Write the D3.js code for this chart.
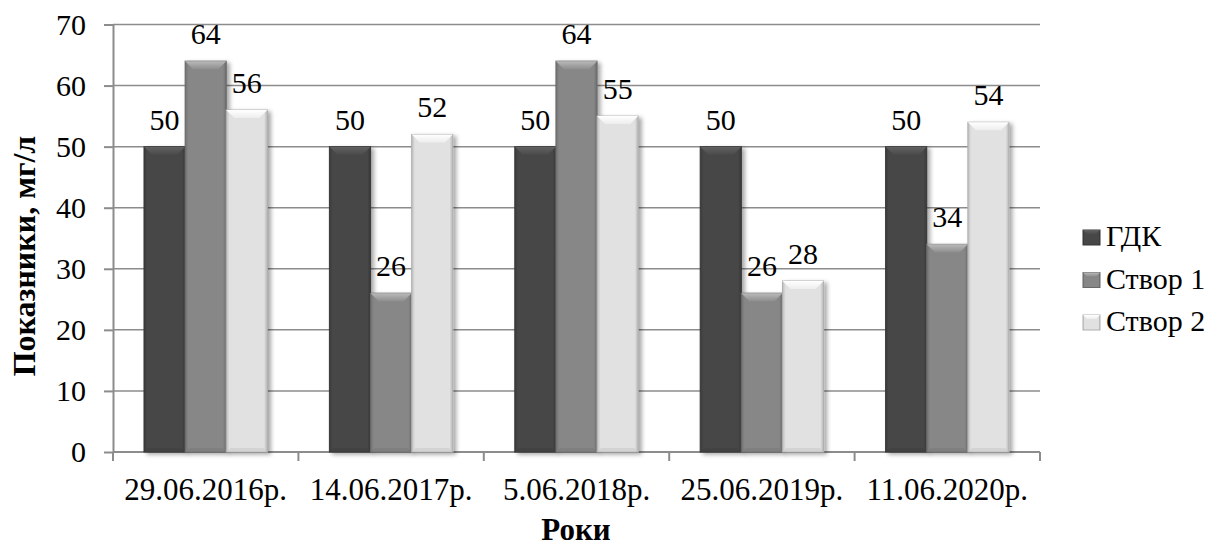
<!DOCTYPE html>
<html>
<head>
<meta charset="utf-8">
<script src="https://cdn.jsdelivr.net/npm/d3@7"></script>
<style>
  body { margin: 0; background: #fff; }
  text { font-family: "Liberation Serif", "Times New Roman", Times, serif; fill: #000; }
</style>
</head>
<body>
<svg width="1213" height="546"></svg>
<script>
// data
var categories = ["29.06.2016р.", "14.06.2017р.", "5.06.2018р.", "25.06.2019р.", "11.06.2020р."];
var series = ["ГДК", "Створ 1", "Створ 2"];
var gdk = [50, 50, 50, 50, 50];
var stvor1 = [64, 26, 64, 26, 34];
var stvor2 = [56, 52, 55, 28, 54];
var yTicks = [0, 10, 20, 30, 40, 50, 60, 70];

var values = [gdk, stvor1, stvor2];
var colours = ["#474747", "#878787", "#e1e1e1"];

var svg = d3.select("svg");
var plotLeft = 113, plotRight = 1040, plotTop = 24.5, plotBottom = 452;

var x = d3.scaleBand().domain(categories).range([plotLeft, plotRight]);
var xs = d3.scaleBand().domain(series).range([31, x.bandwidth() - 31]);
var y = d3.scaleLinear().domain([0, 70]).range([plotBottom, plotTop]);

//gradients for the bevelled bars
var defs = svg.append("defs");
colours.forEach(function (c, i) {
    var base = d3.color(c);
    var g = defs.append("linearGradient").attr("id", "side" + i);
    g.append("stop").attr("offset", "0%").attr("stop-color", base.darker(0.5));
    g.append("stop").attr("offset", "8%").attr("stop-color", base);
    g.append("stop").attr("offset", "92%").attr("stop-color", base);
    g.append("stop").attr("offset", "100%").attr("stop-color", base.darker(0.6));
    var t = defs.append("linearGradient").attr("id", "top" + i)
        .attr("x1", 0).attr("y1", 0).attr("x2", 0).attr("y2", 1);
    t.append("stop").attr("offset", "0%").attr("stop-color", base.brighter(0.9));
    t.append("stop").attr("offset", "100%").attr("stop-color", base.brighter(0.15));
});
var f = defs.append("filter").attr("id", "shadow")
    .attr("x", "-20%").attr("y", "-10%").attr("width", "150%").attr("height", "130%");
f.append("feDropShadow").attr("dx", 3).attr("dy", 2).attr("stdDeviation", 2)
    .attr("flood-color", "#000").attr("flood-opacity", 0.35);

//gridlines
svg.append("g").selectAll("line")
    .data(yTicks)
    .enter().append("line")
    .attr("x1", plotLeft).attr("x2", plotRight)
    .attr("y1", function (d) { return y(d); })
    .attr("y2", function (d) { return y(d); })
    .attr("stroke", "#8c8c8c").attr("stroke-width", 1.5);

//axes
var yAxis = svg.append("g").attr("transform", "translate(" + plotLeft + ",0)")
    .call(d3.axisLeft(y).tickValues(yTicks).tickSize(9).tickSizeOuter(0).tickFormat(""));
var xAxis = svg.append("g").attr("transform", "translate(0," + plotBottom + ")")
    .call(d3.axisBottom(x).tickSize(0).tickFormat(""));
xAxis.selectAll("line.edge")
    .data(d3.range(categories.length + 1))
    .enter().append("line").attr("class", "edge")
    .attr("x1", function (d) { return plotLeft + d * x.bandwidth(); })
    .attr("x2", function (d) { return plotLeft + d * x.bandwidth(); })
    .attr("y1", 0).attr("y2", 9);
[yAxis, xAxis].forEach(function (a) {
    a.selectAll("path").attr("stroke", "#8c8c8c").attr("stroke-width", 2);
    a.selectAll("line").attr("stroke", "#8c8c8c").attr("stroke-width", 2);
});
xAxis.select("path").attr("d", "M" + plotLeft + ",0H" + plotRight);

//y tick labels
svg.append("g").selectAll("text")
    .data(yTicks)
    .enter().append("text")
    .attr("x", 86)
    .attr("y", function (d) { return y(d) + 10; })
    .attr("text-anchor", "end")
    .style("font-size", "30px")
    .text(function (d) { return d; });

//x tick labels
svg.append("g").selectAll("text")
    .data(categories)
    .enter().append("text")
    .attr("x", function (d) { return x(d) + x.bandwidth() / 2; })
    .attr("y", 500)
    .attr("text-anchor", "middle")
    .style("font-size", "31px")
    .text(function (d) { return d; });

//bars
var group = svg.append("g").selectAll("g")
    .data(categories)
    .enter().append("g")
    .attr("transform", function (d) { return "translate(" + x(d) + ",0)"; });

var bars = group.selectAll("g.bar")
    .data(function (d, ci) {
        return series.map(function (s, si) { return { s: s, si: si, v: values[si][ci] }; });
    })
    .enter().append("g").attr("class", "bar");

var bw = xs.bandwidth();
var bev = 8;
bars.append("rect")
    .attr("x", function (d) { return xs(d.s); })
    .attr("y", function (d) { return y(d.v); })
    .attr("width", bw)
    .attr("height", function (d) { return y(0) - y(d.v); })
    .attr("fill", function (d) { return "url(#side" + d.si + ")"; })
    .attr("stroke", function (d) { return d3.color(colours[d.si]).darker(0.7); })
    .attr("stroke-width", 1)
    .attr("filter", "url(#shadow)");
bars.append("path")
    .attr("d", function (d) {
        var x0 = xs(d.s), y0 = y(d.v);
        return "M" + x0 + "," + y0 + "H" + (x0 + bw) + "L" + (x0 + bw - bev) + "," + (y0 + bev)
            + "H" + (x0 + bev) + "Z";
    })
    .attr("fill", function (d) { return "url(#top" + d.si + ")"; });
bars.append("path")
    .attr("d", function (d) {
        var x0 = xs(d.s), y0 = y(0);
        return "M" + x0 + "," + y0 + "H" + (x0 + bw) + "L" + (x0 + bw - 4) + "," + (y0 - 4)
            + "H" + (x0 + 4) + "Z";
    })
    .attr("fill", function (d) { return d3.color(colours[d.si]).darker(0.3); })
    .attr("opacity", 0.6);

//value labels
bars.append("text")
    .attr("x", function (d) { return xs(d.s) + bw / 2; })
    .attr("y", function (d) { return y(d.v) - 17; })
    .attr("text-anchor", "middle")
    .style("font-size", "30px")
    .text(function (d) { return d.v; });

//axis titles
svg.append("text")
    .attr("transform", "translate(35,256) rotate(-90)")
    .attr("text-anchor", "middle")
    .style("font-size", "32px").style("font-weight", "bold")
    .text("Показники, мг/л");
svg.append("text")
    .attr("x", 576).attr("y", 540)
    .attr("text-anchor", "middle")
    .style("font-size", "31px").style("font-weight", "bold")
    .text("Роки");

//legend
var legend = svg.append("g").selectAll("g")
    .data(series)
    .enter().append("g")
    .attr("transform", function (d, i) { return "translate(1083," + (230 + i * 42.5) + ")"; });
legend.append("rect")
    .attr("width", 17).attr("height", 15)
    .attr("fill", function (d, i) { return "url(#side" + i + ")"; })
    .attr("stroke", function (d, i) { return d3.color(colours[i]).darker(0.7); });
legend.append("path")
    .attr("d", "M0,0H17L13,4H4Z")
    .attr("fill", function (d, i) { return "url(#top" + i + ")"; });
legend.append("text")
    .attr("x", 23).attr("y", 16)
    .style("font-size", "30px")
    .text(function (d) { return d; });
</script>
</body>
</html>
